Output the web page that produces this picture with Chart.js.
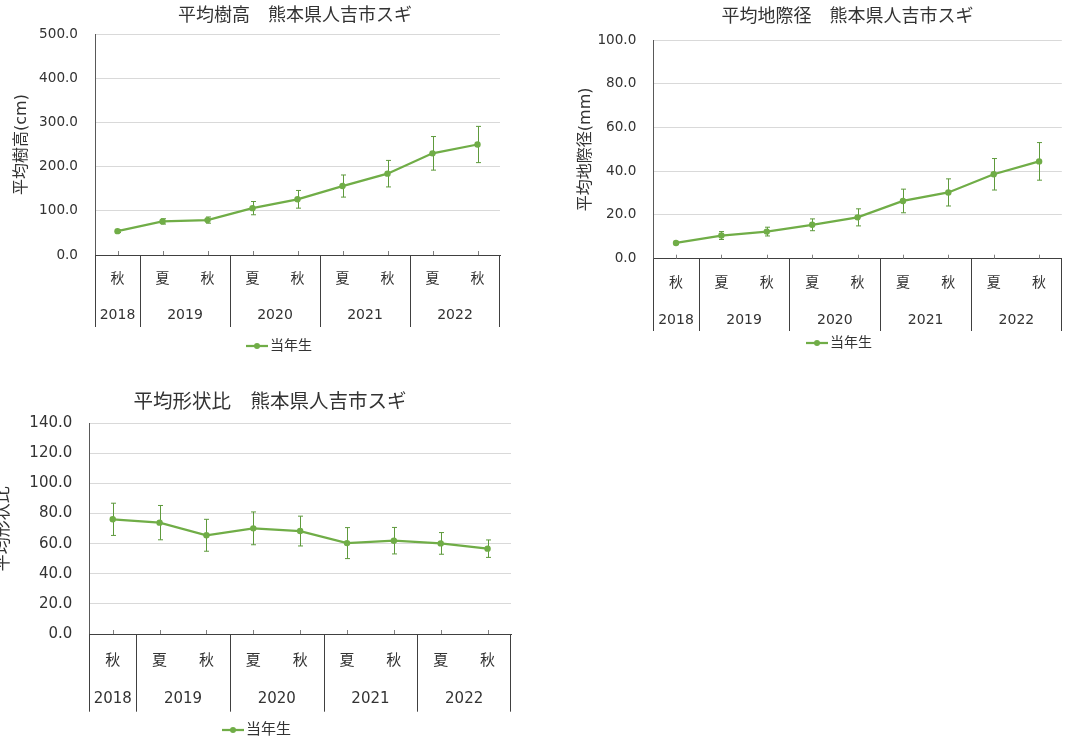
<!DOCTYPE html>
<html>
<head>
<meta charset="utf-8">
<script src="https://cdn.jsdelivr.net/npm/chart.js@4/dist/chart.umd.min.js"></script>
<style>
html, body { margin: 0; padding: 0; background: #fff; width: 1065px; height: 742px; overflow: hidden; position: relative; }
canvas { position: absolute; }
</style>
</head>
<body>
<canvas id="c1" width="520" height="365" style="left:0;top:0"></canvas>
<canvas id="c2" width="505" height="365" style="left:560px;top:0"></canvas>
<canvas id="c3" width="540" height="367" style="left:-10px;top:375px"></canvas>
<script>
// data
const seasons = ['秋', '夏', '秋', '夏', '秋', '夏', '秋', '夏', '秋'];
const years = ['2018', '2019', '2020', '2021', '2022'];
const yearSpans = [1, 2, 2, 2, 2];
const seriesName = '当年生';

const heightMean = [54, 76, 79, 106, 126, 156, 184, 230, 250];
const heightErr = [3, 6, 7, 15, 20, 25, 30, 38, 41];
const diamMean = [7.2, 10.6, 12.4, 15.5, 18.9, 26.4, 30.3, 38.6, 44.5];
const diamErr = [0.6, 1.8, 2.0, 2.7, 3.9, 5.4, 6.2, 7.2, 8.6];
const ratioMean = [76.2, 74.0, 65.6, 70.2, 68.4, 60.4, 62.0, 60.2, 56.7];
const ratioErr = [10.7, 11.4, 10.6, 10.9, 9.9, 10.3, 8.8, 7.2, 5.8];

const FONT = "'DejaVu Sans', 'Noto Sans CJK JP', sans-serif";
const GREEN = '#70AD47';
const ERR = '#5E9A3C';
const TEXT = '#333333';
Chart.defaults.font.family = FONT;
Chart.defaults.color = TEXT;

// draws error bars, the year table under the axis, title and legend
function decor(o) {
        return {
                id: 'decor',
                beforeDatasetsDraw(chart) {
                        const ctx = chart.ctx, x = chart.scales.x, y = chart.scales.y;
                        ctx.save();
                        ctx.strokeStyle = ERR;
                        ctx.lineWidth = 1;
                        o.values.forEach((v, i) => {
                                const px = Math.round(x.getPixelForValue(i)) + 0.5;
                                const top = y.getPixelForValue(v + o.errors[i]);
                                const bot = y.getPixelForValue(v - o.errors[i]);
                                ctx.beginPath();
                                ctx.moveTo(px, top); ctx.lineTo(px, bot);
                                ctx.moveTo(px - 2.5, top); ctx.lineTo(px + 2.5, top);
                                ctx.moveTo(px - 2.5, bot); ctx.lineTo(px + 2.5, bot);
                                ctx.stroke();
                        });
                        ctx.restore();
                },
                afterDraw(chart) {
                        const ctx = chart.ctx, x = chart.scales.x, a = chart.chartArea;
                        const band = x.getPixelForValue(1) - x.getPixelForValue(0);
                        ctx.save();
                        // small inner ticks at each category
                        ctx.strokeStyle = '#808080';
                        ctx.lineWidth = 1;
                        seasons.forEach((s, i) => {
                                const px = Math.round(x.getPixelForValue(i)) + 0.5;
                                ctx.beginPath();
                                ctx.moveTo(px, a.bottom);
                                ctx.lineTo(px, a.bottom - 4);
                                ctx.stroke();
                        });
                        // year groups
                        ctx.strokeStyle = '#404040';
                        ctx.fillStyle = TEXT;
                        ctx.font = o.catSize + 'px ' + FONT;
                        ctx.textAlign = 'center';
                        ctx.textBaseline = 'middle';
                        let idx = 0, x1 = a.left;
                        years.forEach((yr, g) => {
                                const n = yearSpans[g];
                                const x0 = x.getPixelForValue(idx) - band / 2;
                                x1 = x.getPixelForValue(idx + n - 1) + band / 2;
                                const lx = Math.round(x0) + 0.5;
                                ctx.beginPath();
                                ctx.moveTo(lx, a.bottom);
                                ctx.lineTo(lx, a.bottom + o.tableH);
                                ctx.stroke();
                                ctx.fillText(yr, (x0 + x1) / 2, a.bottom + o.yearOff);
                                idx += n;
                        });
                        const rx = Math.round(x1) - 0.5;
                        ctx.beginPath();
                        ctx.moveTo(rx, a.bottom);
                        ctx.lineTo(rx, a.bottom + o.tableH);
                        ctx.stroke();
                        // title
                        ctx.font = o.titleSize + 'px ' + FONT;
                        ctx.fillText(o.title, o.titleX, o.titleY);
                        // legend
                        ctx.font = o.legendSize + 'px ' + FONT;
                        const tw = ctx.measureText(seriesName).width;
                        const start = o.legendX - (24 + tw) / 2;
                        ctx.strokeStyle = GREEN;
                        ctx.lineWidth = 2.25;
                        ctx.beginPath();
                        ctx.moveTo(start, o.legendY);
                        ctx.lineTo(start + 22, o.legendY);
                        ctx.stroke();
                        ctx.fillStyle = GREEN;
                        ctx.beginPath();
                        ctx.arc(start + 11, o.legendY, 3, 0, Math.PI * 2);
                        ctx.fill();
                        ctx.fillStyle = TEXT;
                        ctx.textAlign = 'left';
                        ctx.fillText(seriesName, start + 24, o.legendY);
                        ctx.restore();
                }
        };
}

function makeChart(id, o) {
        const el = document.getElementById(id);
        const W = el.width, H = el.height;
        return new Chart(el, {
                type: 'line',
                data: {
                        labels: seasons,
                        datasets: [{
                                label: seriesName,
                                data: o.values,
                                borderColor: GREEN,
                                backgroundColor: GREEN,
                                borderWidth: 2.25,
                                pointRadius: 3.2,
                                pointHoverRadius: 3.2,
                                pointBorderWidth: 0,
                                tension: 0
                        }]
                },
                options: {
                        responsive: false,
                        animation: false,
                        devicePixelRatio: 1,
                        layout: {
                                padding: {
                                        left: 0,
                                        top: o.area.top,
                                        right: W - o.area.right,
                                        bottom: H - o.area.bottom - o.tableH
                                }
                        },
                        plugins: {
                                legend: { display: false },
                                tooltip: { enabled: false },
                                title: { display: false }
                        },
                        scales: {
                                x: {
                                        offset: true,
                                        grid: { display: false, drawTicks: false },
                                        border: { display: true, color: '#404040', width: 1 },
                                        ticks: {
                                                autoSkip: false,
                                                maxRotation: 0,
                                                padding: o.seasonPad,
                                                font: { size: o.catSize },
                                                color: TEXT
                                        },
                                        afterFit: s => { s.height = o.tableH; }
                                },
                                y: {
                                        min: 0,
                                        max: o.max,
                                        ticks: {
                                                stepSize: o.step,
                                                padding: 17,
                                                font: { size: o.tickSize },
                                                color: TEXT,
                                                callback: v => v.toFixed(1)
                                        },
                                        grid: { color: '#d9d9d9', drawTicks: false },
                                        border: { display: true, color: '#595959', width: 1 },
                                        title: {
                                                display: true,
                                                text: o.yTitle,
                                                font: { size: o.yTitleSize },
                                                color: TEXT,
                                                padding: { top: o.yTitlePad, bottom: 0 }
                                        },
                                        afterFit: s => { s.width = o.area.left; }
                                }
                        }
                },
                plugins: [decor(o)]
        });
}

makeChart('c1', {
        values: heightMean, errors: heightErr, max: 500, step: 100,
        title: '平均樹高　熊本県人吉市スギ', yTitle: '平均樹高(cm)',
        area: { left: 95, right: 500, top: 34, bottom: 255 }, tableH: 72,
        seasonPad: 15.6, yearOff: 60, catSize: 14, tickSize: 13.6,
        yTitleSize: 16, yTitlePad: 12.4, titleSize: 18, titleX: 295, titleY: 16,
        legendSize: 14, legendX: 279, legendY: 346
});

makeChart('c2', {
        values: diamMean, errors: diamErr, max: 100, step: 20,
        title: '平均地際径　熊本県人吉市スギ', yTitle: '平均地際径(mm)',
        area: { left: 93.3, right: 502.3, top: 40, bottom: 258.7 }, tableH: 72.3,
        seasonPad: 15.9, yearOff: 61.3, catSize: 14, tickSize: 13.6,
        yTitleSize: 16, yTitlePad: 16.4, titleSize: 18, titleX: 287.5, titleY: 17,
        legendSize: 14, legendX: 279, legendY: 343
});

makeChart('c3', {
        values: ratioMean, errors: ratioErr, max: 140, step: 20,
        title: '平均形状比　熊本県人吉市スギ', yTitle: '平均形状比',
        area: { left: 99.3, right: 521, top: 48.3, bottom: 259 }, tableH: 77.7,
        seasonPad: 17.7, yearOff: 65, catSize: 15, tickSize: 15,
        yTitleSize: 17, yTitlePad: 3.8, titleSize: 19.5, titleX: 280, titleY: 28,
        legendSize: 15, legendX: 266.5, legendY: 355
});
</script>
</body>
</html>
